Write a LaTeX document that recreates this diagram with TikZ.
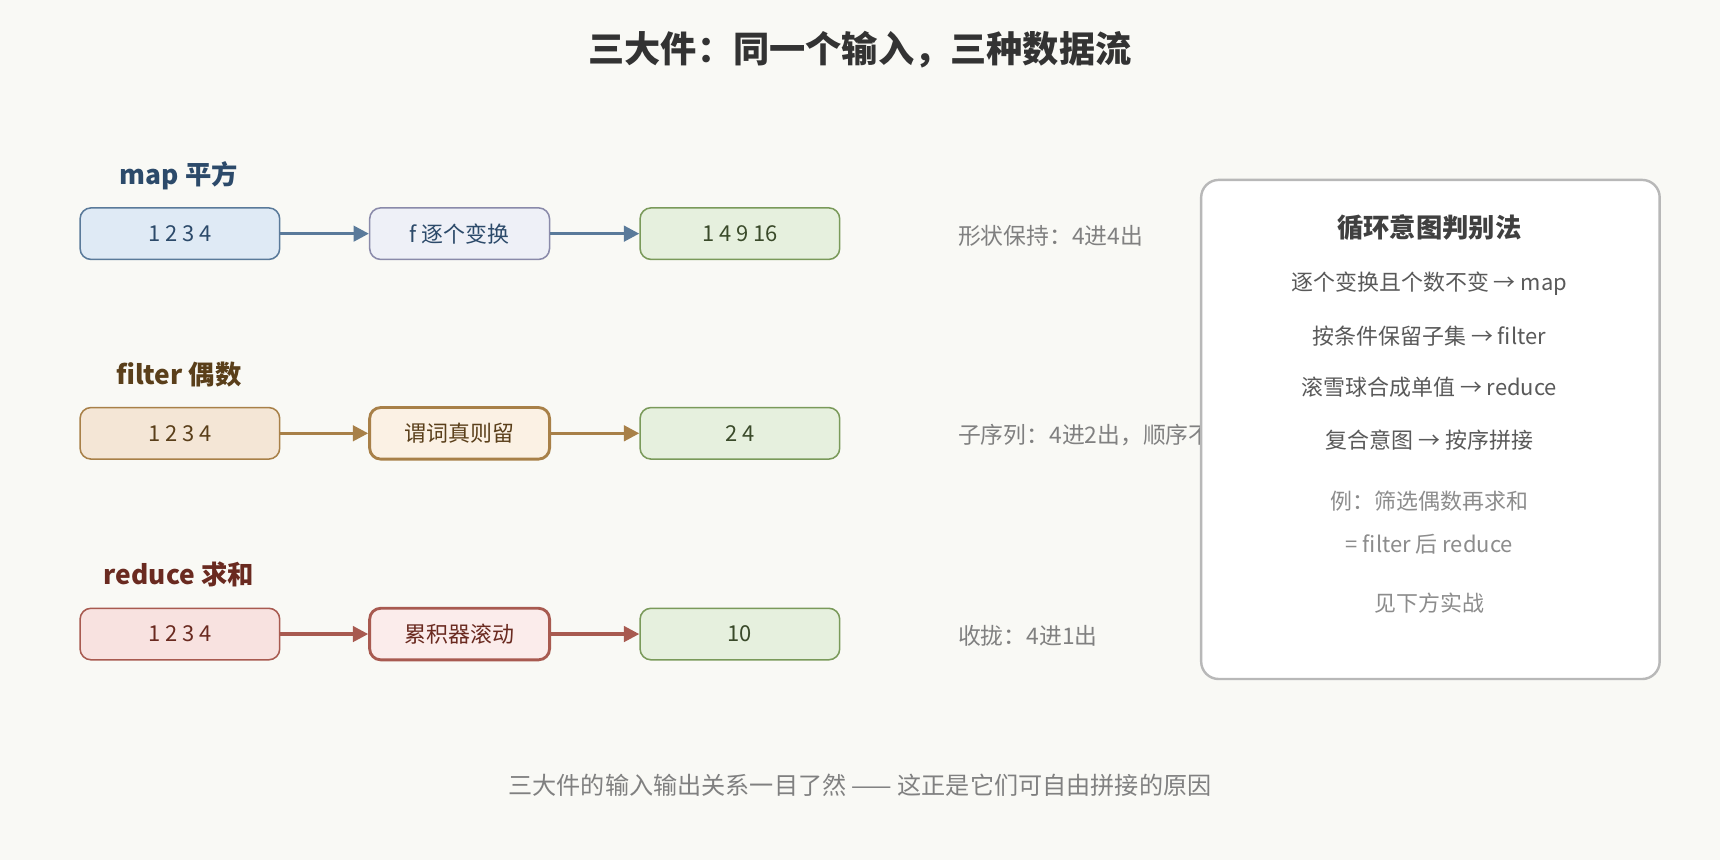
\documentclass[tikz,border=0pt]{standalone}
\usepackage{fontspec}
\setmainfont{Noto Sans CJK SC}
\usetikzlibrary{arrows.meta}
\definecolor{bg}{HTML}{F9F9F5}
\definecolor{bA}{HTML}{5A7A9A}\definecolor{fA}{HTML}{DFEAF5}\definecolor{tA}{HTML}{2C4A6A}
\definecolor{bAm}{HTML}{8A8AAA}\definecolor{fAm}{HTML}{EEF0F7}
\definecolor{bG}{HTML}{7A9A5A}\definecolor{fG}{HTML}{E6F0DE}\definecolor{tG}{HTML}{3A4A2A}
\definecolor{bB}{HTML}{A88048}\definecolor{fB}{HTML}{F4E6D6}\definecolor{fBm}{HTML}{FBF1E4}\definecolor{tB}{HTML}{5A3F1A}
\definecolor{bC}{HTML}{A85A50}\definecolor{fC}{HTML}{F8E2E0}\definecolor{fCm}{HTML}{FBECEB}\definecolor{tC}{HTML}{6A2A20}
\begin{document}
\begin{tikzpicture}[x=0.5pt,y=-0.5pt,
 box/.style={draw,rounded corners=5pt,minimum width=91pt,minimum height=23.5pt,font=\fontsize{10}{11}\selectfont,line width=0.7pt,inner sep=0pt},
 mbox/.style={box,minimum width=82pt},
 arr/.style={-{Triangle[length=7pt,width=7pt]},line width=1.5pt},
 lab/.style={font=\bfseries\fontsize{12}{13}\selectfont},
 note/.style={anchor=west,inner sep=0pt,text=black!50,font=\fontsize{10.4}{11}\selectfont},
 pl/.style={text=black!65,font=\fontsize{10}{11}\selectfont},
 pg/.style={text=black!45,font=\fontsize{10}{11}\selectfont}]
\fill[bg] (0,0) rectangle (1568,784);
\node[font=\bfseries\fontsize{16.5}{18}\selectfont,text=black!80] (title) at (784,45) {三大件：同一个输入，三种数据流};
% row 1
\node[lab,text=tA] (l1) at (163,160) {map 平方};
\node[box,fill=fA,draw=bA,text=tA] (a1) at (164,213) {1 2 3 4};
\node[mbox,fill=fAm,draw=bAm,text=tA] (a2) at (419,213) {f 逐个变换};
\node[box,fill=fG,draw=bG,text=tG] (a3) at (674.5,213) {1 4 9 16};
\draw[arr,bA] (a1) -- (a2); \draw[arr,bA] (a2) -- (a3);
\node[note] (n1) at (873,215) {形状保持：4进4出};
% row 2
\node[lab,text=tB] (l2) at (163,341) {filter 偶数};
\node[box,fill=fB,draw=bB,text=tB] (b1) at (164,395) {1 2 3 4};
\node[mbox,fill=fBm,draw=bB,line width=1.3pt,text=tB] (b2) at (419,395) {谓词真则留};
\node[box,fill=fG,draw=bG,text=tG] (b3) at (674.5,395) {2 4};
\draw[arr,bB] (b1) -- (b2); \draw[arr,bB] (b2) -- (b3);
\node[note] (n2) at (873,397) {子序列：4进2出，顺序不变};
% row 3
\node[lab,text=tC] (l3) at (163,524) {reduce 求和};
\node[box,fill=fC,draw=bC,text=tC] (c1) at (164,578) {1 2 3 4};
\node[mbox,fill=fCm,draw=bC,line width=1.3pt,text=tC] (c2) at (419,578) {累积器滚动};
\node[box,fill=fG,draw=bG,text=tG] (c3) at (674.5,578) {10};
\draw[arr,bC] (c1) -- (c2); \draw[arr,bC] (c2) -- (c3);
\node[note] (n3) at (873,580) {收拢：4进1出};
% panel
\draw[fill=white,draw=black!28,line width=1.1pt,rounded corners=8pt] (1095,164) rectangle (1513,619);
\node[font=\bfseries\fontsize{12}{13}\selectfont,text=black!75] (pt) at (1303,207) {循环意图判别法};
\node[pl] (p1) at (1303,259) {逐个变换且个数不变 → map};
\node[pl] (p2) at (1303,306) {按条件保留子集 → filter};
\node[pl] (p3) at (1303,353) {滚雪球合成单值 → reduce};
\node[pl] (p4) at (1303,401) {复合意图 → 按序拼接};
\node[pg] (p5) at (1303,457) {例：筛选偶数再求和};
\node[pg] (p6) at (1303,496) {= filter 后 reduce};
\node[pg] (p7) at (1303,550) {见下方实战};
\node[text=black!50,font=\fontsize{11}{12}\selectfont] (foot) at (784,716) {三大件的输入输出关系一目了然 —— 这正是它们可自由拼接的原因};
\end{tikzpicture}
\end{document}
